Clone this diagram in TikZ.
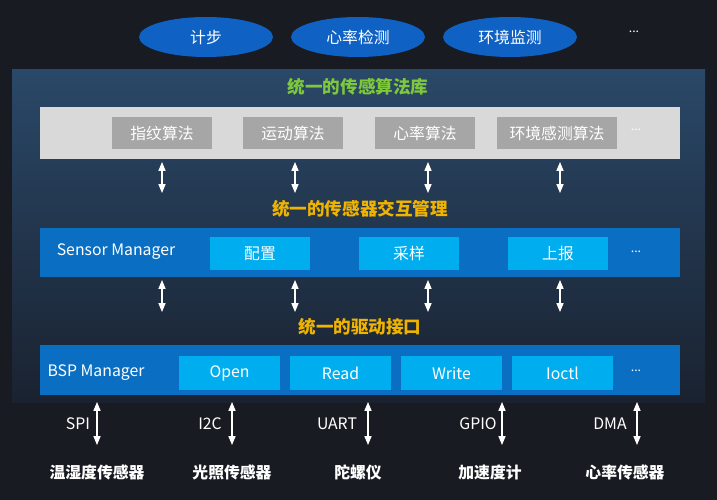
\documentclass[tikz,border=0pt]{standalone}
\usepackage{fontspec}
\setmainfont{Noto Sans CJK SC}
\usetikzlibrary{positioning,arrows.meta,shapes.geometric}
\definecolor{bgdark}{HTML}{181B21}
\definecolor{paneltop}{HTML}{2A4868}
\definecolor{panelbot}{HTML}{1A2230}
\definecolor{ovalblue}{HTML}{0F62C4}
\definecolor{bandblue}{HTML}{0A6FC2}
\definecolor{cellblue}{HTML}{00AEEF}
\definecolor{bandgray}{HTML}{D9D9D9}
\definecolor{cellgray}{HTML}{A6A6A6}
\definecolor{titlegreen}{HTML}{7EC83C}
\definecolor{titlegold}{HTML}{F0B400}
\tikzset{
  oval/.style={ellipse, fill=ovalblue, minimum width=2.68cm, minimum height=0.8cm, inner sep=0pt, text=white, font=\small},
  cell/.style={text=white, font=\small, inner sep=0pt},
  layertitle/.style={font=\bfseries},
  link/.style={white, {Triangle[width=4pt,length=5pt]}-{Triangle[width=4pt,length=5pt]}, line width=0.6pt},
  busname/.style={text=white, font=\small},
  sensorname/.style={text=white, font=\bfseries\small}
}
\begin{document}
\begin{tikzpicture}[x=0.02cm, y=-0.02cm]
  \fill[bgdark] (0,0) rectangle (717,500);
  \useasboundingbox (0,0) rectangle (717,500);
  % panel
  \shade[top color=paneltop, bottom color=panelbot] (12,70) rectangle (705,402);
  % applications
  \node[oval] (app-jibu) at (206,37) {计步};
  \node[oval] (app-xinlv) at (358,37) {心率检测};
  \node[oval] (app-huanjing) at (510,37) {环境监测};
  \node[text=white, font=\scriptsize] (app-more) at (634,32) {...};
  % algorithm layer
  \node[layertitle, text=titlegreen] (t-alg) at (358,87) {统一的传感算法库};
  \fill[bandgray] (40,107) rectangle (680,159);
  \foreach \txt/\a/\b [count=\i] in {指纹算法/112/212, 运动算法/243/343, 心率算法/375/475, 环境感测算法/497/617}
    \node[cell, fill=cellgray, minimum width=(\b-\a)*0.02cm, minimum height=0.64cm] (alg-\i) at ({(\a+\b)/2},133) {\txt};
  \node[text=white, font=\scriptsize] at (636,130) {...};
  % sensor manager layer
  \node[layertitle, text=titlegold] (t-sm) at (360,209) {统一的传感器交互管理};
  \fill[bandblue] (40,228) rectangle (680,277);
  \node[text=white, font=\small] (sm) at (116,252) {Sensor Manager};
  \foreach \txt/\a/\b [count=\i] in {配置/210/310, 采样/359/459, 上报/508/608}
    \node[cell, fill=cellblue, minimum width=(\b-\a)*0.02cm, minimum height=0.66cm] (sm-\i) at ({(\a+\b)/2},253.5) {\txt};
  \node[text=white, font=\scriptsize] at (636,252) {...};
  % bsp layer
  \node[layertitle, text=titlegold] (t-bsp) at (360,327) {统一的驱动接口};
  \fill[bandblue] (40,345) rectangle (680,395);
  \node[text=white, font=\small] (bsp) at (96,373) {BSP Manager};
  \foreach \txt/\a/\b [count=\i] in {Open/179/280, Read/290/391, Write/401/502, Ioctl/512/613}
    \node[cell, fill=cellblue, minimum width=(\b-\a)*0.02cm, minimum height=0.68cm] (bsp-\i) at ({(\a+\b)/2},373) {\txt};
  \node[text=white, font=\scriptsize] at (636,371) {...};
  % links between layers
  \foreach \x [count=\i] in {162, 295, 428, 560} {
    \coordinate (up-\i) at (\x,162);
    \coordinate (dn-\i) at (\x,193);
    \draw[link] (up-\i) -- (dn-\i);
    \coordinate (up2-\i) at (\x,280);
    \coordinate (dn2-\i) at (\x,312);
    \draw[link] (up2-\i) -- (dn2-\i);
  }
  % buses and sensors
  \foreach \x/\bx/\bus/\lx/\sensor [count=\i] in {97/78/SPI/97/温湿度传感器, 232/210/I2C/232/光照传感器, 368/337/UART/358/陀螺仪, 502/478/GPIO/490/加速度计, 637/610/DMA/625/心率传感器} {
    \coordinate (bt-\i) at (\x,402);
    \coordinate (bb-\i) at (\x,445);
    \draw[link] (bt-\i) -- (bb-\i);
    \node[busname] (bus-\i) at (\bx,424) {\bus};
    \node[sensorname] (sensor-\i) at (\lx,472) {\sensor};
  }
\end{tikzpicture}
\end{document}
